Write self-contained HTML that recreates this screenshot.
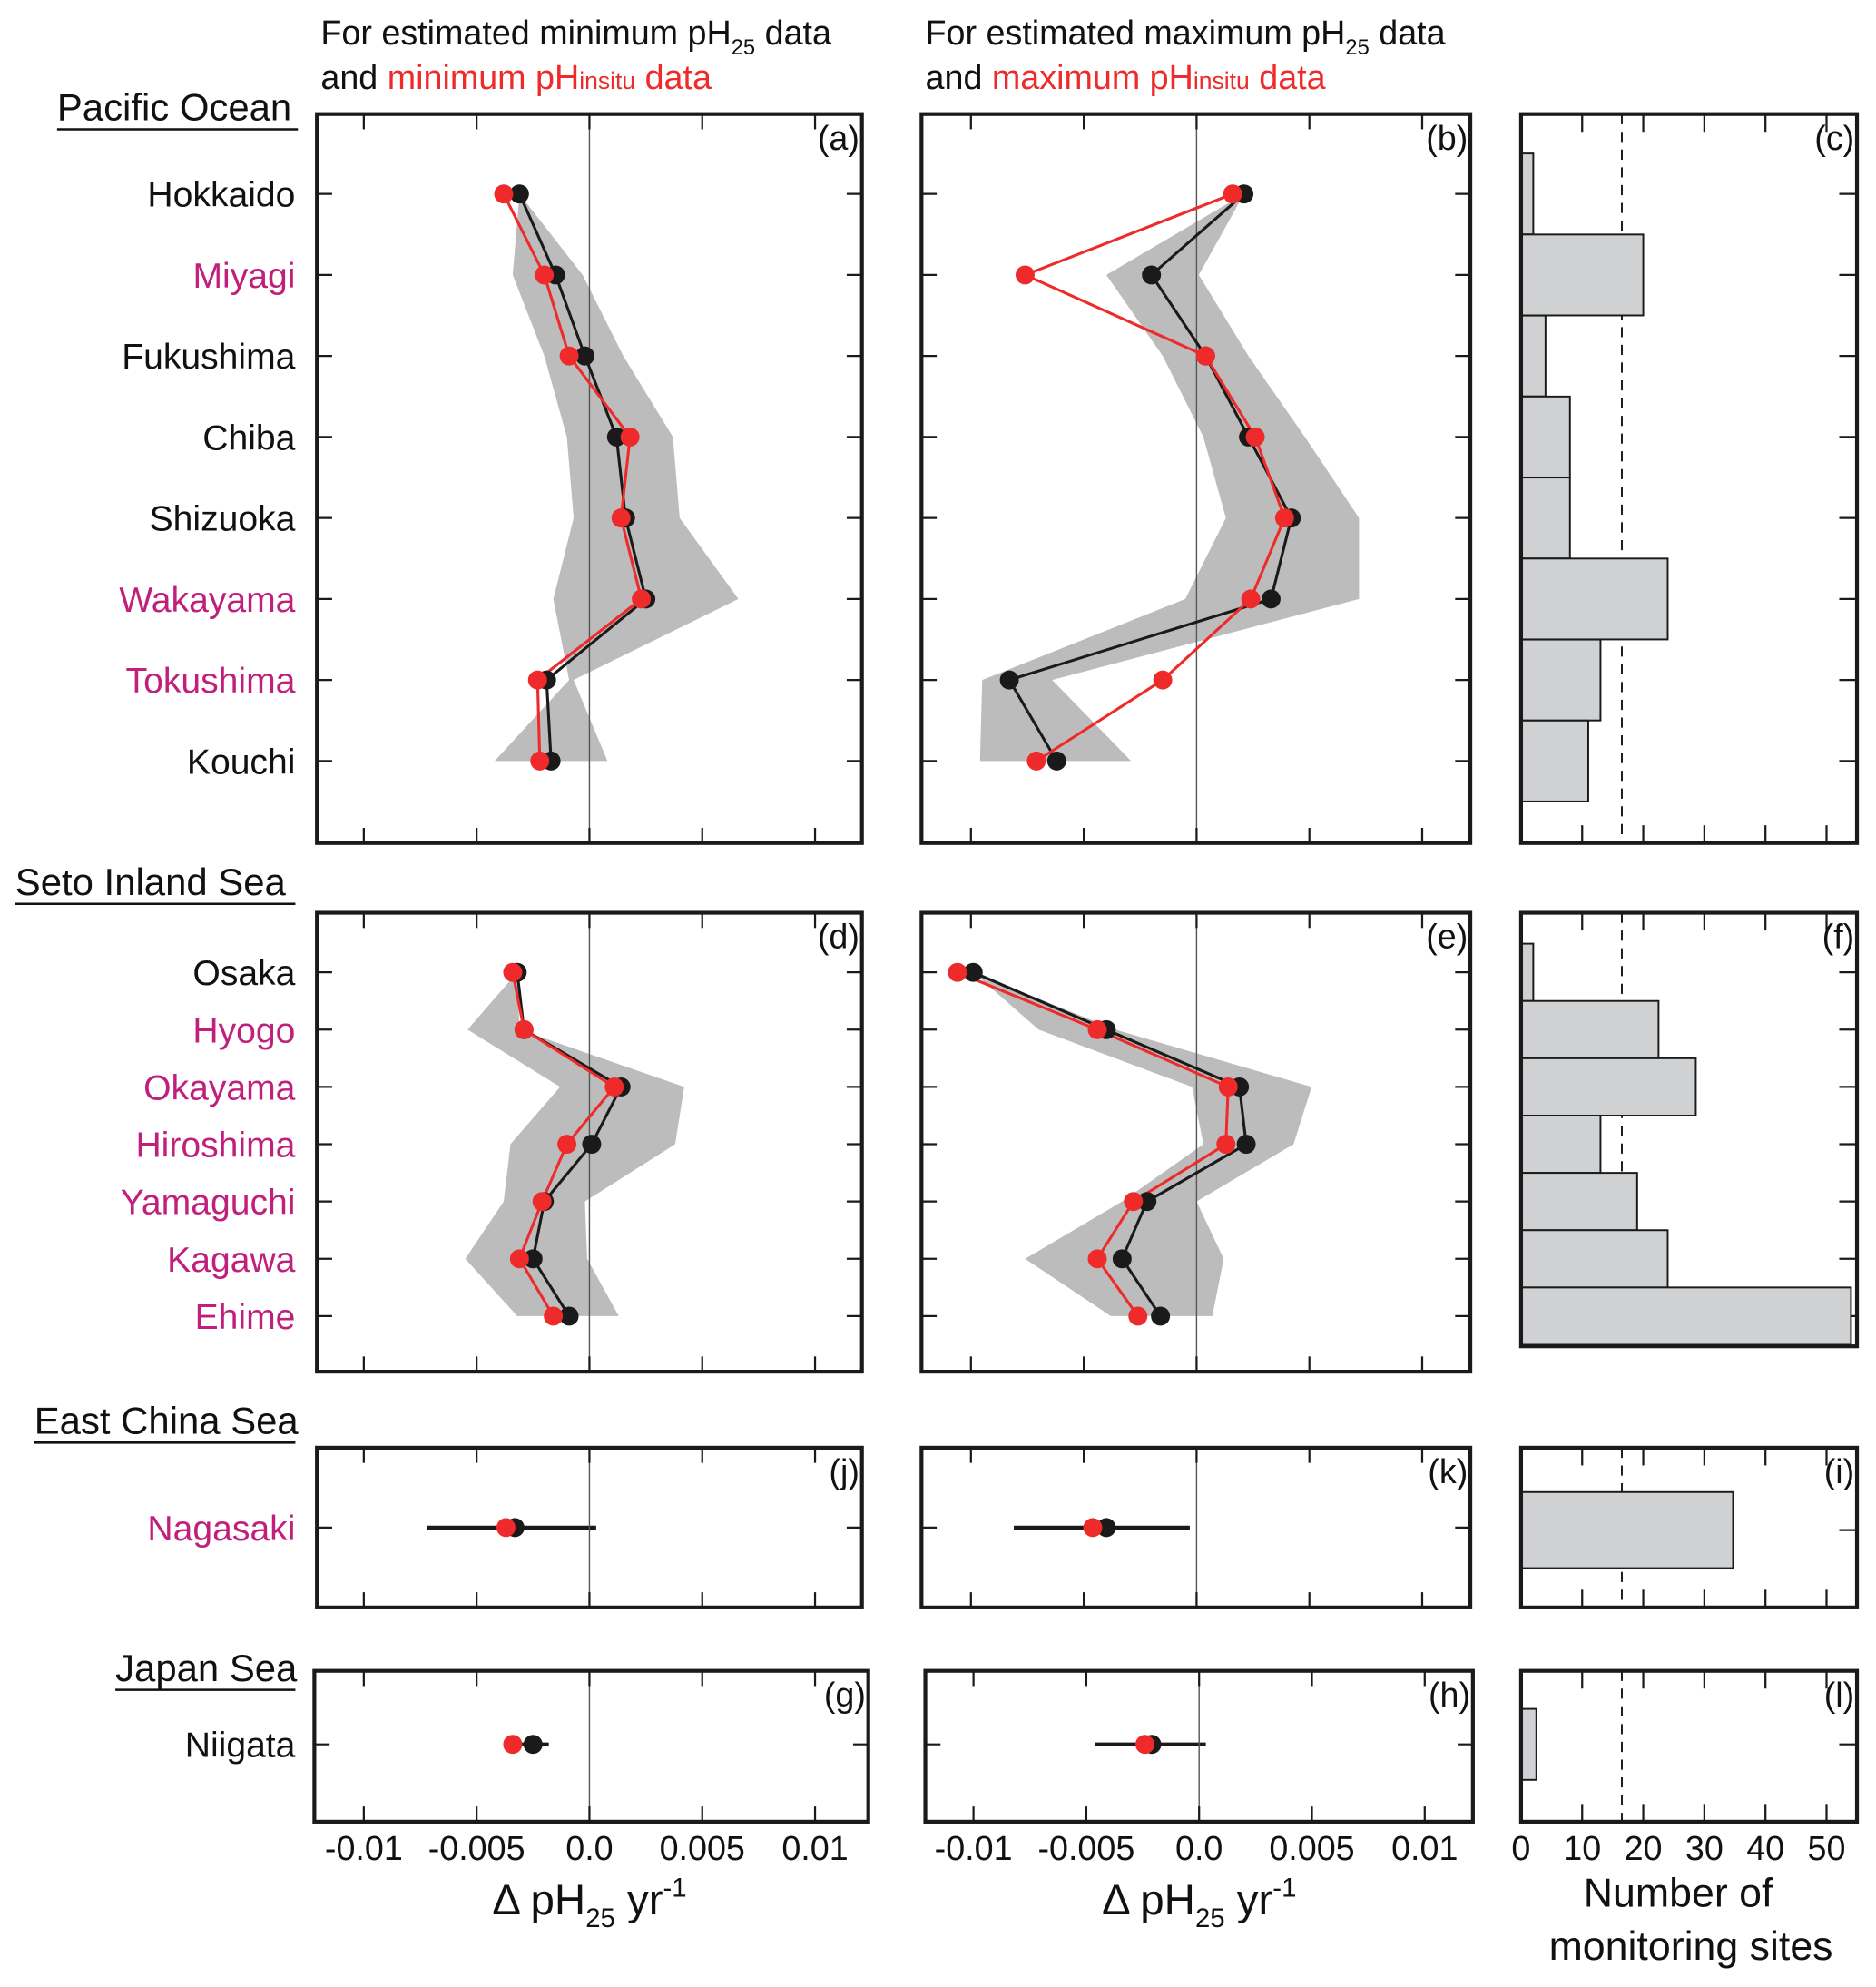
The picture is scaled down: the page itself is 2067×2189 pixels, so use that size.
<!DOCTYPE html>
<html><head><meta charset="utf-8">
<style>
html,body{margin:0;padding:0;background:#fff;}
svg{display:block;}
text{font-family:"Liberation Sans",sans-serif;}
</style></head>
<body>
<svg id="fig" width="2067" height="2189" viewBox="0 0 1480 1567.4" xmlns="http://www.w3.org/2000/svg"></svg>
<script>
// ---------- data ----------
const pacificSites = ["Hokkaido","Miyagi","Fukushima","Chiba","Shizuoka","Wakayama","Tokushima","Kouchi"];
const pacificMagenta = [false,true,false,false,false,true,true,false];
const setoSites = ["Osaka","Hyogo","Okayama","Hiroshima","Yamaguchi","Kagawa","Ehime"];
const setoMagenta = [false,true,true,true,true,true,true];

const aBlack = [-0.0031,-0.0015,-0.0002,0.0012,0.0016,0.0025,-0.0019,-0.0017];
const aRed   = [-0.0038,-0.0020,-0.0009,0.0018,0.0014,0.0023,-0.0023,-0.0022];
const aLo    = [-0.0031,-0.0034,-0.0020,-0.0010,-0.0007,-0.0016,-0.0009,-0.0042];
const aHi    = [-0.0031,-0.0003,0.0015,0.0037,0.0040,0.0066,-0.0007,0.0008];

const bBlack = [0.0021,-0.0020,0.0004,0.0023,0.0042,0.0033,-0.0083,-0.0062];
const bRed   = [0.0016,-0.0076,0.0004,0.0026,0.0039,0.0024,-0.0015,-0.0071];
const bLo    = [0.0021,-0.0040,-0.0015,0.0003,0.0013,-0.0005,-0.0095,-0.0096];
const bHi    = [0.0021,0.0001,0.0023,0.0048,0.0072,0.0072,-0.0064,-0.0029];

const cCounts = [2,20,4,8,8,24,13,11];

const dBlack = [-0.0032,-0.0029,0.0014,0.0001,-0.0020,-0.0025,-0.0009];
const dRed   = [-0.0034,-0.0029,0.0011,-0.0010,-0.0021,-0.0031,-0.0016];
const dLo    = [-0.0032,-0.0054,-0.0013,-0.0035,-0.0038,-0.0055,-0.0032];
const dHi    = [-0.0032,-0.0031,0.0042,0.0038,-0.0002,-0.0001,0.0013];

const eBlack = [-0.0099,-0.0040,0.0019,0.0022,-0.0022,-0.0033,-0.0016];
const eRed   = [-0.0106,-0.0044,0.0014,0.0013,-0.0028,-0.0044,-0.0026];
const eLo    = [-0.0099,-0.0070,-0.0002,0.0003,-0.0033,-0.0076,-0.0038];
const eHi    = [-0.0099,-0.0036,0.0051,0.0043,0.0000,0.0012,0.0007];

const fCounts = [2,22.5,28.6,13,19,24,54];

const jBlack = [-0.0033]; const jRed = [-0.0037]; const jErr = [-0.0072,0.0003];
const kBlack = [-0.0040]; const kRed = [-0.0046]; const kErr = [-0.0081,-0.0003];
const gBlack = [-0.0025]; const gRed = [-0.0034]; const gErr = [-0.0037,-0.0018];
const hBlack = [-0.0021]; const hRed = [-0.0024]; const hErr = [-0.0046,0.0003];
const iCounts = [34.7];
const lCounts = [2.5];
const thresholdSites = [16.5];

const phTicks = [-0.01,-0.005,0,0.005,0.01];
const phTickLabels = ["-0.01","-0.005","0.0","0.005","0.01"];
const countTicks = [0,10,20,30,40,50];
const countTickLabels = ["0","10","20","30","40","50"];

// ---------- drawing ----------
const NS="http://www.w3.org/2000/svg";
const svg=document.getElementById('fig');
function mk(tag,attrs,parent){const e=document.createElementNS(NS,tag);for(const k in attrs)e.setAttribute(k,attrs[k]);(parent||svg).appendChild(e);return e;}
const MAG="#c01f7c", RED="#ee2a2a";

function phX(px0,v){return px0+v*17800;}
function cntX(v){return 1200+v*4.82;}

function frame(x0,y0,x1,y1,name){
  const r=mk('rect',{x:x0,y:y0,width:x1-x0,height:y1-y0,fill:'none',stroke:'#1a1a1a','stroke-width':3});
  
  
}
function letter(x,y,t){
  const e=mk('text',{x:x,y:y,'font-size':27,'text-anchor':'end',fill:'#111'});e.textContent=t;
  
  
}
function phPanel(x0,y0,x1,y1,zero,rows,black,red,lo,hi,name,lbl){
  const g=mk('g',{});
  
  
  if(lo){
    let pts=[];
    for(let i=0;i<rows.length;i++)pts.push(phX(zero,lo[i])+','+rows[i]);
    for(let i=rows.length-1;i>=0;i--)pts.push(phX(zero,hi[i])+','+rows[i]);
    const p=mk('polygon',{points:pts.join(' '),fill:'#bdbcbd'},g);
    
    
  }
  const z=mk('line',{x1:zero,x2:zero,y1:y0,y2:y1,stroke:'#555','stroke-width':1},g);
  
  
  phTicks.forEach(t=>{const x=phX(zero,t);
    mk('line',{x1:x,x2:x,y1:y0,y2:y0+12,stroke:'#1a1a1a','stroke-width':1.6},g);
    mk('line',{x1:x,x2:x,y1:y1,y2:y1-12,stroke:'#1a1a1a','stroke-width':1.6},g);});
  rows.forEach(y=>{
    mk('line',{x1:x0,x2:x0+12,y1:y,y2:y,stroke:'#1a1a1a','stroke-width':1.6},g);
    mk('line',{x1:x1,x2:x1-12,y1:y,y2:y,stroke:'#1a1a1a','stroke-width':1.6},g);});
  [[black,'#1a1a1a','black'],[red,RED,'red']].forEach(([arr,col,nm])=>{
    if(arr.length>1){
      const l=mk('polyline',{points:arr.map((v,i)=>phX(zero,v)+','+rows[i]).join(' '),fill:'none',stroke:col,'stroke-width':2.2},g);
      
      
    }
  });
  [[black,'#1a1a1a','black'],[red,RED,'red']].forEach(([arr,col,nm])=>{
    arr.forEach((v,i)=>{
      const c=mk('circle',{cx:phX(zero,v),cy:rows[i],r:7.5,fill:col},g);
      
      
    });
  });
  frame(x0,y0,x1,y1,name+'-frame');
  letter(x1-2,y0+28,lbl);
  return g;
}
function errbar(zero,row,err){
  const l=mk('line',{x1:phX(zero,err[0]),x2:phX(zero,err[1]),y1:row,y2:row,stroke:'#1a1a1a','stroke-width':3});
  
  
}
function cntPanel(y0,y1,rows,counts,halfH,name,lbl,tickRows){
  const x0=1200,x1=1465;
  const g=mk('g',{});
  
  
  countTicks.slice(1).forEach(t=>{const x=cntX(t);
    mk('line',{x1:x,x2:x,y1:y0,y2:y0+14,stroke:'#1a1a1a','stroke-width':1.6},g);
    mk('line',{x1:x,x2:x,y1:y1,y2:y1-14,stroke:'#1a1a1a','stroke-width':1.6},g);});
  (tickRows||rows).forEach(y=>{mk('line',{x1:x1,x2:x1-14,y1:y,y2:y,stroke:'#1a1a1a','stroke-width':1.6},g);});
  const dx=cntX(thresholdSites[0]);
  const d=mk('line',{x1:dx,x2:dx,y1:y0,y2:y1,stroke:'#1a1a1a','stroke-width':1.4,'stroke-dasharray':'8,6'},g);
  
  
  counts.forEach((v,i)=>{
    const b=mk('rect',{x:x0,y:rows[i]-halfH,width:cntX(v)-x0,height:2*halfH,fill:'#d0d1d3',stroke:'#1a1a1a','stroke-width':1.4},g);
    
    
  });
  frame(x0,y0,x1,y1,name+'-frame');
  letter(x1-2,y0+28,lbl);
}
function siteLabel(t,y,mag){
  const e=mk('text',{x:233,y:y+10,'font-size':28,'text-anchor':'end',fill:mag?MAG:'#111'});e.textContent=t;
  
  
}
function region(t,x,y,w){
  const e=mk('text',{x:x,y:y,'font-size':30,fill:'#111'});e.textContent=t;
  
  
  mk('line',{x1:x,x2:x+w,y1:y+7,y2:y+7,stroke:'#111','stroke-width':1.8});
}

const pRows=pacificSites.map((s,i)=>153+i*63.9);
const sRows=setoSites.map((s,i)=>767+i*45.2);
const nRow=[1205], niRow=[1376];

function title(x,which){
  const t1=mk('text',{x:x,y:35,'font-size':27,fill:'#111'});
  
  
  t1.innerHTML='For estimated '+which+' pH<tspan font-size="17" dy="8">25</tspan><tspan dy="-8"> data</tspan>';
  const t2=mk('text',{x:x,y:70,'font-size':27,fill:'#111'});
  
  
  t2.innerHTML='and <tspan fill="'+RED+'">'+which+' pH<tspan font-size="19">insitu</tspan> data</tspan>';
}
title(253,'minimum'); title(730,'maximum');

region('Pacific Ocean',45,95,190);
region('Seto Inland Sea',12,706,221);
region('East China Sea',27,1131,206);
region('Japan Sea',91,1326,142);

pacificSites.forEach((s,i)=>siteLabel(s,pRows[i],pacificMagenta[i]));
setoSites.forEach((s,i)=>siteLabel(s,sRows[i],setoMagenta[i]));
siteLabel('Nagasaki',nRow[0],true);
siteLabel('Niigata',niRow[0],false);

phPanel(250,90,680,665,465,pRows,aBlack,aRed,aLo,aHi,'panel-a','(a)');
phPanel(727,90,1160,665,944,pRows,bBlack,bRed,bLo,bHi,'panel-b','(b)');
cntPanel(90,665,pRows,cCounts,31.9,'panel-c','(c)');

phPanel(250,720,680,1082,465,sRows,dBlack,dRed,dLo,dHi,'panel-d','(d)');
phPanel(727,720,1160,1082,944,sRows,eBlack,eRed,eLo,eHi,'panel-e','(e)');
cntPanel(720,1062,sRows,fCounts,22.6,'panel-f','(f)');

errbar(465,nRow[0],jErr);
phPanel(250,1142,680,1268,465,nRow,jBlack,jRed,null,null,'panel-j','(j)');
errbar(944,nRow[0],kErr);
phPanel(727,1142,1160,1268,944,nRow,kBlack,kRed,null,null,'panel-k','(k)');
cntPanel(1142,1268,[1207],iCounts,30,'panel-i','(i)');

errbar(465,niRow[0],gErr);
phPanel(248,1318,685,1437,465,niRow,gBlack,gRed,null,null,'panel-g','(g)');
errbar(946,niRow[0],hErr);
phPanel(730,1318,1162,1437,946,niRow,hBlack,hRed,null,null,'panel-h','(h)');
cntPanel(1318,1437,[1376],lCounts,28,'panel-l','(l)');

[[465,'left'],[946,'mid']].forEach(([z,nm])=>{
  phTicks.forEach((t,i)=>{
    const e=mk('text',{x:phX(z,t),y:1467,'font-size':27,'text-anchor':'middle',fill:'#111'});
    e.textContent=phTickLabels[i];
    
    
  });
  const at=mk('text',{x:z,y:1510,'font-size':34,'text-anchor':'middle',fill:'#111'});
  
  
  at.innerHTML='Δ pH<tspan font-size="21" dy="10">25</tspan><tspan dy="-10"> yr</tspan><tspan font-size="21" dy="-14">-1</tspan>';
});
countTicks.forEach((t,i)=>{
  const e=mk('text',{x:cntX(t),y:1467,'font-size':27,'text-anchor':'middle',fill:'#111'});
  e.textContent=countTickLabels[i];
  
  
});
const ct1=mk('text',{x:1324,y:1504,'font-size':32,'text-anchor':'middle',fill:'#111'});ct1.textContent='Number of';


const ct2=mk('text',{x:1334,y:1546,'font-size':32,'text-anchor':'middle',fill:'#111'});ct2.textContent='monitoring sites';


</script>
</body></html>
